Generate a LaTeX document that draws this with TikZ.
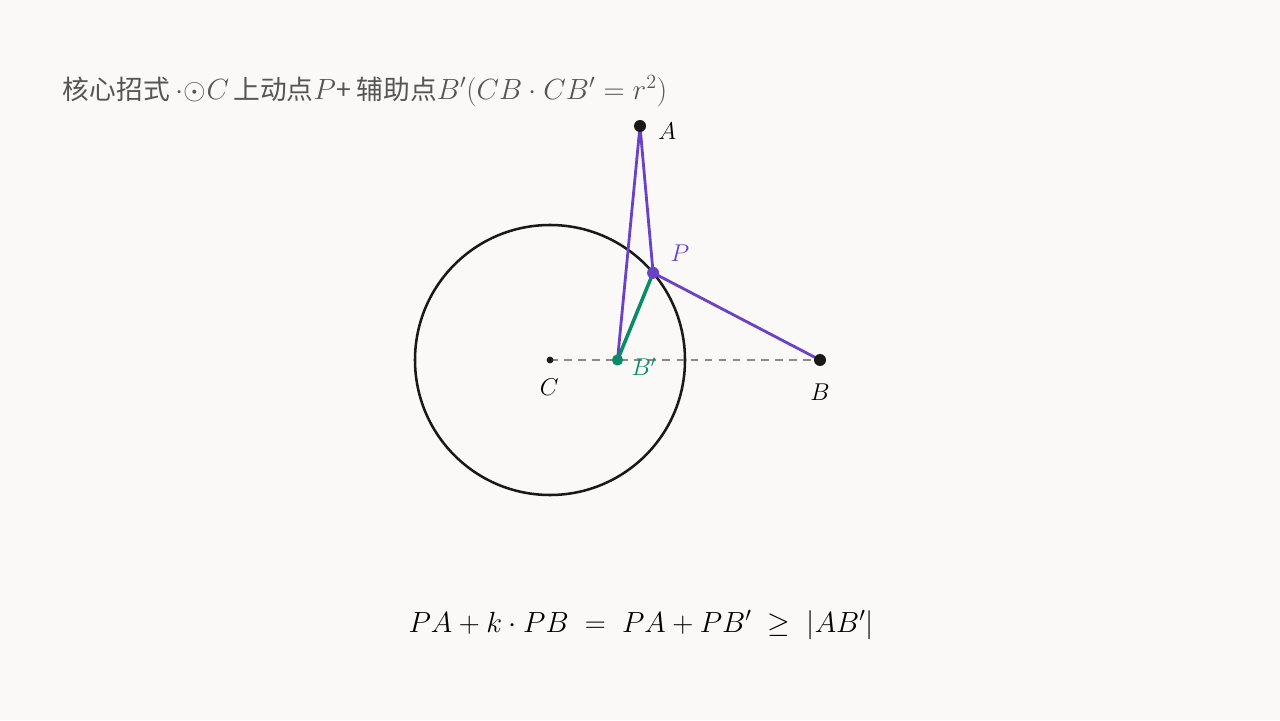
\documentclass[tikz,border=0pt]{standalone}
\usepackage{fontspec}
\usepackage{amsmath}
\usetikzlibrary{calc}
\newfontfamily\cjk{Noto Sans CJK SC}
\newcommand{\tmath}[1]{{\fontsize{22}{24}\selectfont$#1$}}
\definecolor{bgcol}{HTML}{FAF9F7}
\definecolor{titlecol}{HTML}{555555}
\definecolor{violet}{HTML}{6A42C8}
\definecolor{teal}{HTML}{0B8A68}
\definecolor{dashcol}{HTML}{8A8A8A}
\tikzstyle{circ} = [line width=1.8pt, draw=black!90]
\tikzstyle{pline} = [line width=2pt, draw=violet]
\tikzstyle{gline} = [line width=2.5pt, draw=teal]
\tikzstyle{hline} = [line width=1pt, draw=dashcol, dash pattern=on 5.5pt off 4.5pt]
\tikzstyle{dot} = [circle, fill=black!90, inner sep=0pt, minimum size=0.3cm]
\tikzstyle{lab} = [font=\fontsize{16.5}{19}\selectfont]

\begin{document}
\begin{tikzpicture}
\fill [bgcol] (0,0) rectangle (32,18);
\useasboundingbox (0,0) rectangle (32,18);
% points
\coordinate (C) at (13.75,9);
\coordinate (A) at (16,14.85);
\coordinate (P) at ($(C)+(40.2:3.375)$);
\coordinate (B) at (20.5,9);
\coordinate (Bp) at (15.4375,9);
% circle and segments
\draw [circ] (C) circle (3.375);
\draw [hline] (C) -- (B);
\draw [pline] (A) -- (Bp);
\draw [pline] (A) -- (P);
\draw [pline] (P) -- (B);
\draw [gline] (Bp) -- (P);
% dots
\node (dotC) [dot, minimum size=0.17cm] at (C) {};
\node (dotA) [dot] at (A) {};
\node (dotB) [dot] at (B) {};
\node (dotBp) [dot, fill=teal, minimum size=0.28cm] at (Bp) {};
\node (dotP) [dot, fill=violet] at (P) {};
% labels
\node (labA) [lab] at (16.68,14.72) {$A$};
\node (labP) [lab, text=violet] at (17.0,11.67) {$P$};
\node (labBp) [lab, text=teal] at (16.1,8.83) {$B'$};
\node (labC) [lab] at (13.73,8.33) {$C$};
\node (labB) [lab] at (20.5,8.2) {$B$};
% title and formula
\node (title) [anchor=west, text=titlecol, font=\fontsize{19}{22}\selectfont] at (1.45,15.72)
  {\cjk 核心招式 \tmath{{\cdot}{\odot}C}\,上动点\tmath{P}+ 辅助点\tmath{B'(CB\cdot CB'=r^2)}};
\node (formula) [font=\fontsize{21.6}{26}\selectfont] at (16.03,2.37)
  {$PA+k\cdot PB\;=\;PA+PB'\;\geq\;|AB'|$};
\end{tikzpicture}
\end{document}
